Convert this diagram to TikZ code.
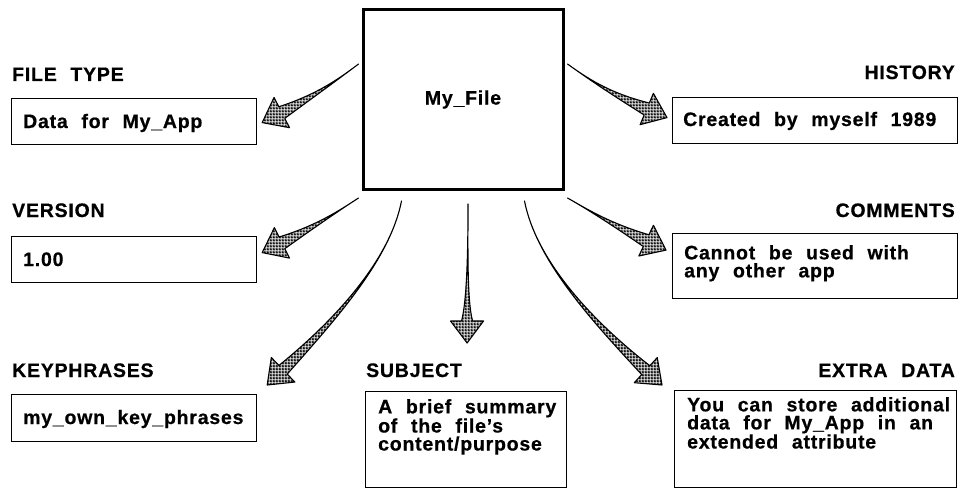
\documentclass[tikz,border=0pt]{standalone}
\usepackage{fontspec}
\setmainfont{Liberation Sans}[LetterSpace=4,WordSpace=2.2,BoldFeatures={FakeBold=0.6}]
\usetikzlibrary{calc,patterns.meta}

% dense black dither with small white holes, used inside the fat arrows
\tikzdeclarepattern{
  name=dither,
  type=uncolored,
  bounding box={(0pt,0pt) and (3pt,3pt)},
  tile size={(3pt,3pt)},
  code={
    \fill[even odd rule] (0pt,0pt) rectangle (3pt,3pt)
      (0.7pt,0.7pt) rectangle (2.3pt,2.3pt);
  }
}

% tapered fat arrow: tail, control 1, control 2, tip, shaft half-width, head half-width
\newcommand\fatarrow[6]{%
  \coordinate (hb) at ($(#4)!22pt!(#3)$);
  \coordinate (sl) at ($(hb)!#5pt!90:(#4)$);
  \coordinate (sr) at ($(hb)!#5pt!-90:(#4)$);
  \coordinate (hl) at ($(hb)!#6pt!90:(#4)$);
  \coordinate (hr) at ($(hb)!#6pt!-90:(#4)$);
  \filldraw[fatfill] (#1) .. controls (#2) and (#3) .. (sl) -- (hl) -- (#4)
    -- (hr) -- (sr) .. controls (#3) and (#2) .. (#1) -- cycle;
}

\begin{document}
\begin{tikzpicture}[x=1pt,y=-1pt,
  txt/.style={font=\bfseries\fontsize{19.5pt}{18pt}\selectfont, inner sep=0pt},
  lbl/.style={txt},
  frame/.style={draw, line width=1.2pt, inner sep=0pt, anchor=north west},
  mainbox/.style={draw, line width=3pt, inner sep=0pt, txt},
  body/.style={txt, align=left, anchor=north west},
  line/.style={txt, anchor=base west},
  fatfill/.style={draw=black, line width=1.1pt, line join=round,
    pattern=dither, pattern color=black}]

\useasboundingbox (0,0) rectangle (960,487);

% central file
\node[mainbox, minimum width=200pt, minimum height=180pt] (file) at (463,99.5) {My\_File};

% attribute headings
\node[lbl, anchor=base west] (lft)   at (12,81)  {FILE TYPE};
\node[lbl, anchor=base east] (lhist) at (955,79) {HISTORY};
\node[lbl, anchor=base west] (lver)  at (12,217) {VERSION};
\node[lbl, anchor=base east] (lcom)  at (955,217) {COMMENTS};
\node[lbl, anchor=base west] (lkp)   at (12,377) {KEYPHRASES};
\node[lbl, anchor=base west] (lsub)  at (366,377) {SUBJECT};
\node[lbl, anchor=base east] (lext)  at (955,377) {EXTRA DATA};

% value boxes
\node[frame, minimum width=245pt, minimum height=46pt] (ftbox)   at (11,98)  {};
\node[frame, minimum width=245pt, minimum height=46pt] (verbox)  at (11,236) {};
\node[frame, minimum width=245pt, minimum height=47pt] (kpbox)   at (11,394) {};
\node[frame, minimum width=201pt, minimum height=96pt] (subbox)  at (365,391) {};
\node[frame, minimum width=285pt, minimum height=46pt] (histbox) at (672,97) {};
\node[frame, minimum width=285pt, minimum height=65pt] (combox)  at (672,233) {};
\node[frame, minimum width=282pt, minimum height=97pt] (extbox)  at (674,390) {};

% values
\node[line] (vft)   at ($(ftbox.north west)+(12,30)$)   {Data for My\_App};
\node[line] (vver)  at ($(verbox.north west)+(12,30)$)  {1.00};
\node[line] (vkp)   at ($(kpbox.north west)+(12,30)$)   {my\_own\_key\_phrases};
\node[line] (vhist) at ($(histbox.north west)+(11,29)$) {Created by myself 1989};
\node[body] (vcom)  at ($(combox.north west)+(12,12)$)  {Cannot be used with\\any other app};
\node[body] (vsub)  at ($(subbox.north west)+(13,8)$)   {A brief summary\\of the file's\\content/purpose};
\node[body] (vext)  at ($(extbox.north west)+(13,7)$)   {You can store additional\\data for My\_App in an\\extended attribute};

% arrow ends on the file and at the boxes
\coordinate (tft)   at ($(file.north west)+(-3,56)$);
\coordinate (thist) at ($(file.north east)+(3,56)$);
\coordinate (tver)  at ($(file.south west)+(-3,7)$);
\coordinate (tcom)  at ($(file.south east)+(3,7)$);
\coordinate (tkp)   at ($(file.south west)+(40,10)$);
\coordinate (tsub)  at ($(file.south)+(5,13)$);
\coordinate (text)  at ($(file.south east)+(-40,10)$);
\coordinate (pft)   at ($(ftbox.east)+(5,1)$);
\coordinate (phist) at ($(histbox.west)+(-5,-3)$);
\coordinate (pver)  at ($(verbox.east)+(5,-7)$);
\coordinate (pcom)  at ($(combox.west)+(-6,-16)$);
\coordinate (pkp)   at ($(kpbox.north east)+(10,-9)$);
\coordinate (psub)  at ($(subbox.north)+(1,-48)$);
\coordinate (pext)  at ($(extbox.north west)+(-12,-5)$);

% fat arrows
\fatarrow{tft}{340,78}{318,94}{pft}{6.5}{17}
\fatarrow{thist}{587,78}{609,93}{phist}{6.5}{17}
\fatarrow{tver}{340,210}{318,225}{pver}{6.5}{17}
\fatarrow{tcom}{587,209}{609,223}{pcom}{6.5}{17}
\fatarrow{tkp}{390,260}{335,320}{pkp}{6}{17}
\fatarrow{tsub}{468,250}{467,300}{psub}{5.5}{16.5}
\fatarrow{text}{536,260}{591,320}{pext}{6}{17}
\end{tikzpicture}
\end{document}
